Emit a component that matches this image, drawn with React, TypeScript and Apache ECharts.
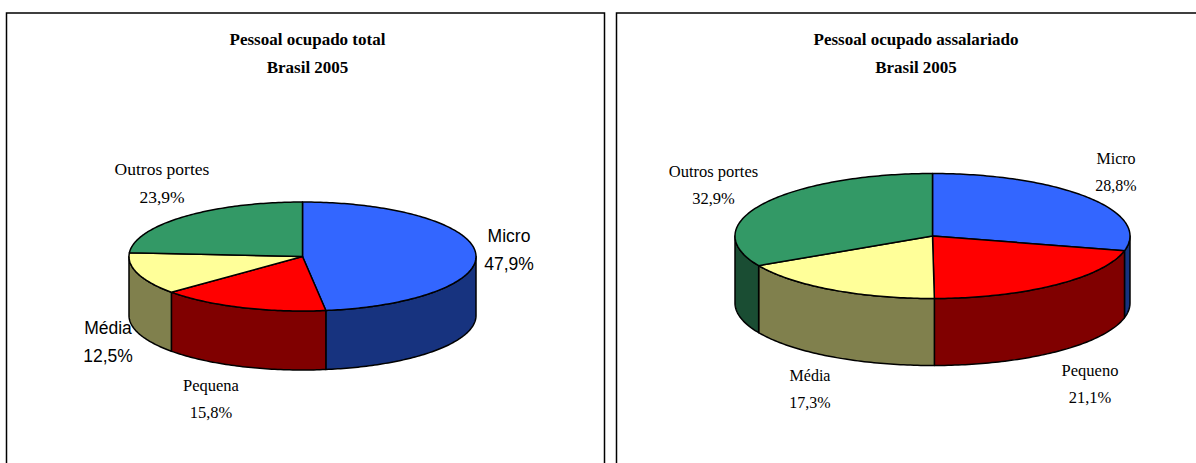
import React, { useEffect, useRef } from "react";
import * as echarts from "echarts";

const leftTitle = "Pessoal ocupado total\nBrasil 2005";
const rightTitle = "Pessoal ocupado assalariado\nBrasil 2005";
const leftCategories = ["Micro", "Pequena", "Média", "Outros portes"];
const leftValues = [47.9, 15.8, 12.5, 23.9];
const rightCategories = ["Micro", "Pequeno", "Média", "Outros portes"];
const rightValues = [28.8, 21.1, 17.3, 32.9];

const topColors = ["#3366FF", "#FF0000", "#FFFF99", "#339966"];
const wallColors = ["#17337F", "#800000", "#80804D", "#1A4D33"];

type Geo = { cx: number; cy: number; rx: number; ry: number; depth: number };
type LabelPos = { x: number; y: number; size: number; sans?: boolean };

const leftGeo: Geo = { cx: 302.5, cy: 256.5, rx: 173.5, ry: 54.5, depth: 59 };
const rightGeo: Geo = { cx: 932.5, cy: 236, rx: 197.5, ry: 62.5, depth: 67 };
const leftLabels: LabelPos[] = [
  { x: 509, y: 236, size: 17.5, sans: true },
  { x: 211, y: 385, size: 16.5 },
  { x: 108, y: 328, size: 17.5, sans: true },
  { x: 162, y: 169, size: 17.5 },
];
const rightLabels: LabelPos[] = [
  { x: 1116, y: 158, size: 16 },
  { x: 1090, y: 370, size: 16.5 },
  { x: 810, y: 375, size: 16 },
  { x: 713.5, y: 171, size: 16.5 },
];

const fmt = (v: number) => v.toFixed(1).replace(".", ",") + "%";

function pieSeries(values: number[], names: string[], geo: Geo, labels: LabelPos[]) {
  const total = values.reduce((a, b) => a + b, 0);
  const pt = (deg: number, dy = 0): number[] => {
    const t = (deg * Math.PI) / 180;
    return [geo.cx + geo.rx * Math.sin(t), geo.cy - geo.ry * Math.cos(t) + dy];
  };
  const arc = (a: number, b: number, dy = 0): number[][] => {
    const pts: number[][] = [];
    const n = Math.max(2, Math.ceil(b - a));
    for (let i = 0; i <= n; i++) pts.push(pt(a + ((b - a) * i) / n, dy));
    return pts;
  };
  return {
    type: "custom",
    coordinateSystem: "none",
    silent: true,
    data: values.map((v) => [v]),
    renderItem: (params: any, api: any) => {
      const i = params.dataIndex;
      const v = api.value(0) as number;
      const before = values.slice(0, i).reduce((a, b) => a + b, 0);
      const start = (before / total) * 360;
      const end = ((before + v) / total) * 360;
      const children: any[] = [];
      const wa = Math.max(start, 90);
      const wb = Math.min(end, 270);
      if (wb > wa) {
        children.push({
          type: "polygon",
          z2: 1,
          shape: { points: [...arc(wa, wb), ...arc(wa, wb, geo.depth).reverse()] },
          style: { fill: wallColors[i], stroke: "#000", lineWidth: 1.5, lineJoin: "round" },
        });
      }
      children.push({
        type: "polygon",
        z2: 2,
        shape: { points: [[geo.cx, geo.cy], ...arc(start, end)] },
        style: { fill: topColors[i], stroke: "#000", lineWidth: 1.5, lineJoin: "round" },
      });
      const lp = labels[i];
      const family = lp.sans ? "Liberation Sans" : "Liberation Serif";
      [names[i], fmt(v)].forEach((t, k) => {
        children.push({
          type: "text",
          z2: 3,
          x: lp.x,
          y: lp.y + k * 27.5,
          style: {
            text: t,
            fontFamily: family,
            fontSize: lp.size,
            fill: "#000",
            align: "center",
            verticalAlign: "middle",
          },
        });
      });
      return { type: "group", children };
    },
  };
}

const titleStyle = {
  fontFamily: "Liberation Serif",
  fontSize: 17,
  fontWeight: "bold" as const,
  color: "#000",
  lineHeight: 28,
};

export default function App() {
  const ref = useRef<HTMLDivElement>(null);
  useEffect(() => {
    document.body.style.margin = "0";
    const chart = echarts.init(ref.current!, undefined, { renderer: "svg" });
    chart.setOption({
      animation: false,
      backgroundColor: "#fff",
      title: [
        { text: leftTitle, left: 302.5, top: 20, textAlign: "center", textStyle: titleStyle },
        { text: rightTitle, left: 911, top: 20, textAlign: "center", textStyle: titleStyle },
      ],
      graphic: [
        { type: "rect", shape: { x: 6.5, y: 13, width: 598, height: 470 }, style: { fill: "none", stroke: "#000", lineWidth: 1.5 }, silent: true },
        { type: "rect", shape: { x: 616.5, y: 13, width: 600, height: 470 }, style: { fill: "none", stroke: "#000", lineWidth: 1.5 }, silent: true },
      ],
      series: [
        pieSeries(leftValues, leftCategories, leftGeo, leftLabels),
        pieSeries(rightValues, rightCategories, rightGeo, rightLabels),
      ],
    });
    return () => chart.dispose();
  }, []);
  return <div ref={ref} style={{ width: 1196, height: 463 }} />;
}
